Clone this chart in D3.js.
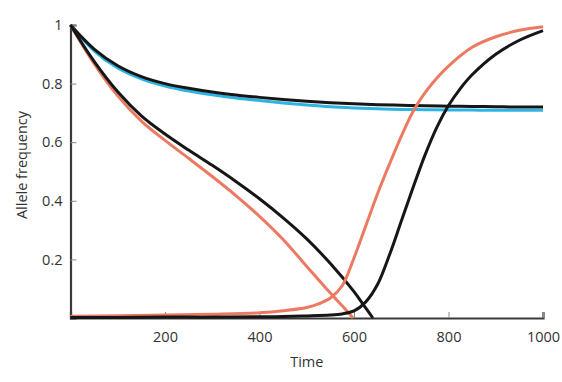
<!DOCTYPE html>
<html>
<head>
<meta charset="utf-8">
<script src="https://cdn.jsdelivr.net/npm/d3@7"></script>
<style>
  html, body { margin: 0; padding: 0; background: #fff; }
  svg { display: block; }
  text { font-family: "Open Sans", "Lato", sans-serif; fill: #333; }
</style>
</head>
<body>
<svg id="chart" width="562" height="382"></svg>
<script>
// ---- data ----
const timeFull = [0, 50, 100, 150, 200, 250, 300, 350, 400, 450, 500, 550, 600, 650, 700, 750, 800, 850, 900, 950, 1000];
const blueTop  = [1, 0.912, 0.853, 0.816, 0.792, 0.775, 0.762, 0.751, 0.742, 0.734, 0.727, 0.721, 0.717, 0.714, 0.712, 0.711, 0.710, 0.7095, 0.709, 0.709, 0.709];
const blackTop = [1, 0.918, 0.861, 0.824, 0.800, 0.784, 0.771, 0.761, 0.753, 0.746, 0.740, 0.735, 0.731, 0.728, 0.726, 0.724, 0.723, 0.722, 0.721, 0.720, 0.720];

const timeRedFall   = [0, 50, 100, 150, 200, 250, 300, 350, 400, 450, 500, 550, 575, 598];
const redFall       = [1, 0.868, 0.758, 0.672, 0.606, 0.545, 0.483, 0.418, 0.347, 0.268, 0.176, 0.085, 0.042, 0];
const timeBlackFall = [0, 50, 100, 150, 200, 250, 300, 350, 400, 450, 500, 550, 600, 620, 640];
const blackFall     = [1, 0.876, 0.772, 0.690, 0.628, 0.573, 0.521, 0.466, 0.407, 0.342, 0.270, 0.186, 0.090, 0.045, 0];

const timeRedRise = [0, 100, 200, 300, 400, 450, 500, 525, 550, 575, 600, 625, 650, 675, 700, 725, 750, 775, 800, 850, 900, 950, 1000];
const redRise     = [0.006, 0.008, 0.010, 0.013, 0.018, 0.025, 0.036, 0.048, 0.068, 0.110, 0.205, 0.315, 0.425, 0.525, 0.620, 0.705, 0.768, 0.818, 0.860, 0.924, 0.960, 0.982, 0.994];
const timeBlackRise = [0, 100, 200, 300, 400, 450, 500, 550, 575, 600, 625, 650, 675, 700, 725, 750, 775, 800, 825, 850, 900, 950, 1000];
const blackRise     = [0.002, 0.002, 0.003, 0.003, 0.004, 0.005, 0.007, 0.010, 0.014, 0.024, 0.055, 0.115, 0.215, 0.330, 0.445, 0.555, 0.650, 0.725, 0.783, 0.830, 0.900, 0.948, 0.981];

const xTicks = [200, 400, 600, 800, 1000];
const yTicks = [0.2, 0.4, 0.6, 0.8, 1];

// ---- layout ----
const svg = d3.select("#chart");
const x = d3.scaleLinear().domain([0, 1000]).range([70.5, 543]);
const y = d3.scaleLinear().domain([0, 1]).range([318, 25]);

const RED = "#ec7a62", BLUE = "#2cb5e3", BLACK = "#161616";

function zip(ts, vs) { return ts.map((t, i) => [t, vs[i]]); }
const line = d3.line().x(d => x(d[0])).y(d => y(d[1])).curve(d3.curveCatmullRom.alpha(0.5));

// axes
const xAxis = d3.axisBottom(x).tickValues(xTicks).tickSize(-6).tickPadding(14).tickFormat(d3.format("d"));
const yAxis = d3.axisLeft(y).tickValues(yTicks).tickSize(-6).tickPadding(8).tickFormat(d => d === 1 ? "1" : d3.format(".1f")(d));

const gx = svg.append("g").attr("transform", `translate(0,${y(0)})`).call(xAxis);
const gy = svg.append("g").attr("transform", `translate(${x(0)},0)`).call(yAxis);
[gx, gy].forEach(g => {
  g.select(".domain").attr("stroke", "#3a3a3a").attr("stroke-width", 2.2);
  g.selectAll(".tick line").attr("stroke", "#888").attr("stroke-width", 1);
  g.selectAll(".tick text").style("font-size", "14.5px").attr("fill", "#333").style("font-family", '"Open Sans", sans-serif');
});

// series
const series = [
  { data: zip(timeFull, blueTop), color: BLUE },
  { data: zip(timeFull, blackTop), color: BLACK },
  { data: zip(timeRedFall, redFall), color: RED },
  { data: zip(timeBlackFall, blackFall), color: BLACK },
  { data: zip(timeRedRise, redRise), color: RED },
  { data: zip(timeBlackRise, blackRise), color: BLACK }
];
svg.append("g").selectAll("path").data(series).join("path")
  .attr("d", d => line(d.data))
  .attr("fill", "none")
  .attr("stroke", d => d.color)
  .attr("stroke-width", 3);

// labels
svg.append("text").attr("x", (x(0) + x(1000)) / 2).attr("y", 367)
  .attr("text-anchor", "middle").style("font-size", "14.5px").text("Time");
svg.append("text").attr("transform", `translate(27,165) rotate(-90)`)
  .attr("text-anchor", "middle").style("font-size", "14.5px").text("Allele frequency");
</script>
</body>
</html>
